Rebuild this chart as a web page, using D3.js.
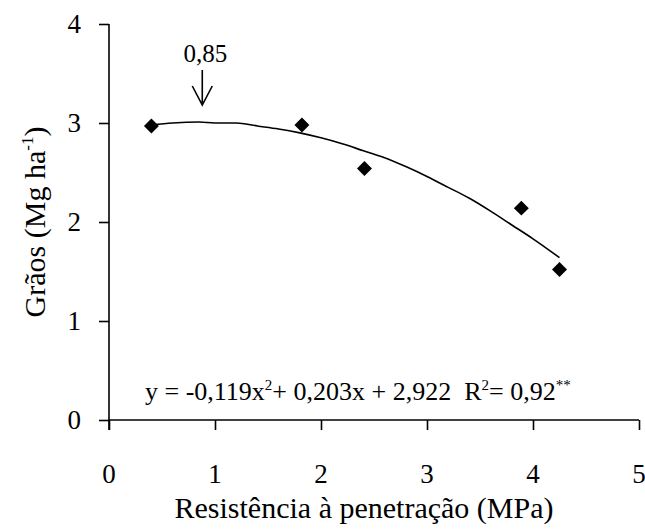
<!DOCTYPE html>
<html><head><meta charset="utf-8">
<script src="https://cdn.jsdelivr.net/npm/d3@7"></script>
<style>
html,body{margin:0;padding:0;background:#fff;}
svg text{font-family:"Liberation Serif","Times New Roman",Times,serif;fill:#000;white-space:pre;}
</style></head>
<body><svg id="c" width="645" height="532"></svg>
<script>
// observed points
const pointX = [0.40, 1.82, 2.41, 3.89, 4.25];
const pointY = [2.97, 2.98, 2.54, 2.14, 1.52];
// fitted curve
const curveX = [0.4, 0.6, 0.85, 1.0, 1.2, 1.4, 1.6, 1.8, 2.0, 2.2, 2.4, 2.6, 2.8, 3.0, 3.2, 3.4, 3.6, 3.8, 4.0, 4.25];
const curveY = [2.98, 3.00, 3.01, 3.00, 3.00, 2.97, 2.94, 2.90, 2.85, 2.79, 2.72, 2.65, 2.56, 2.46, 2.35, 2.24, 2.11, 1.97, 1.83, 1.64];
const xTicks = [0, 1, 2, 3, 4, 5];
const yTicks = [0, 1, 2, 3, 4];
const arrowValue = 0.88;
const arrowLabel = "0,85";
const xTitle = "Resistência à penetração (MPa)";

const FONT = '"Liberation Serif","Times New Roman",Times,serif';
const svg = d3.select("#c");
const x = d3.scaleLinear().domain([0, 5]).range([109, 639]);
const y = d3.scaleLinear().domain([0, 4]).range([420, 24]);

// axes
const xAxis = d3.axisBottom(x).tickValues(xTicks).tickSize(10).tickFormat("");
const yAxis = d3.axisLeft(y).tickValues(yTicks).tickSize(10).tickFormat("");
const gx = svg.append("g").attr("transform", `translate(0,${y(0)})`).call(xAxis);
const gy = svg.append("g").attr("transform", `translate(${x(0)},0)`).call(yAxis);
[gx, gy].forEach(g => {
  g.select(".domain").attr("stroke", "#000").attr("stroke-width", 1.6);
  g.selectAll(".tick line").attr("stroke", "#000").attr("stroke-width", 1.6);
});
gx.select(".domain").attr("d", `M${x(0)},0H${x(5)}`);
gy.select(".domain").attr("d", `M0,${y(4)}V${y(0) + 10}`);

// tick labels
svg.append("g").selectAll("text").data(xTicks).join("text")
  .attr("font-family", FONT)
  .attr("x", d => x(d)).attr("y", 483).attr("text-anchor", "middle")
  .style("font-size", "27px").text(d => d);
svg.append("g").selectAll("text").data(yTicks).join("text")
  .attr("font-family", FONT)
  .attr("x", 81).attr("y", d => y(d)).attr("dy", "0.35em").attr("text-anchor", "end")
  .style("font-size", "27px").text(d => d);

// titles
svg.append("text").attr("font-family", FONT).attr("x", 364).attr("y", 518).attr("text-anchor", "middle")
  .style("font-size", "30px").text(xTitle);
const yt = svg.append("text").attr("font-family", FONT)
  .attr("transform", `translate(45,${(y(0) + y(4)) / 2}) rotate(-90)`)
  .attr("text-anchor", "middle").style("font-size", "30px");
yt.append("tspan").text("Grãos (Mg ha");
yt.append("tspan").attr("dy", -12).style("font-size", "17px").text("-1");
yt.append("tspan").attr("dy", 12).text(")");

// curve
const line = d3.line().x(d => x(d[0])).y(d => y(d[1])).curve(d3.curveMonotoneX);
svg.append("path").datum(d3.zip(curveX, curveY)).attr("d", line)
  .attr("fill", "none").attr("stroke", "#000").attr("stroke-width", 1.6);

// points
const sym = d3.symbol().type(d3.symbolSquare).size(112);
svg.append("g").selectAll("path").data(d3.zip(pointX, pointY)).join("path")
  .attr("d", sym).attr("fill", "#000")
  .attr("transform", d => `translate(${x(d[0])},${y(d[1])}) rotate(45)`);

// arrow annotation
const ax = x(arrowValue);
svg.append("text").attr("font-family", FONT).attr("x", ax + 3).attr("y", 62).attr("text-anchor", "middle")
  .style("font-size", "25px").text(arrowLabel);
svg.append("path").attr("d", `M${ax},70V105M${ax - 10},86L${ax},105L${ax + 10},86`)
  .attr("fill", "none").attr("stroke", "#000").attr("stroke-width", 1.6);

// equation
const eq = svg.append("text").attr("font-family", FONT).attr("x", 145).attr("y", 400).style("font-size", "26px");
const parts = [["y = -0,119x", false], ["2", true], ["+ 0,203x + 2,922  R", false], ["2", true], ["= 0,92", false], ["**", true]];
parts.forEach(([t, sup], i) => {
  const ts = eq.append("tspan").text(t);
  if (sup) ts.attr("dy", -10).style("font-size", "15px");
  else if (i > 0) ts.attr("dy", 10);
});
</script></body></html>
